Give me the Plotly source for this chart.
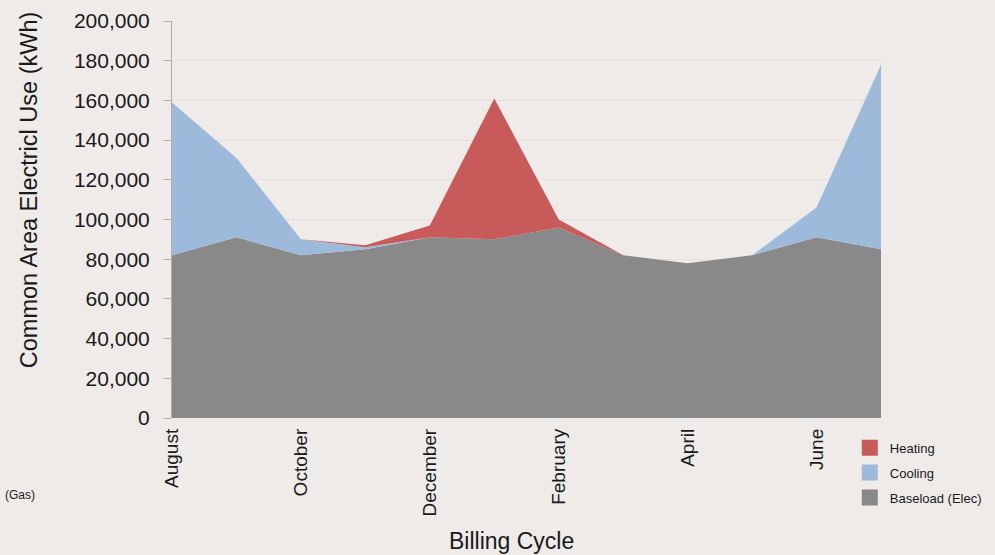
import plotly.graph_objects as go

months = ["August", "September", "October", "November", "December", "January",
          "February", "March", "April", "May", "June", "July"]
baseload = [82000, 91000, 82000, 85000, 91000, 90000, 96000, 82000, 78000, 82000, 91000, 85000]
cooling = [77000, 40000, 8000, 1000, 0, 0, 0, 0, 0, 0, 15000, 93000]
heating = [0, 0, 0, 1000, 6000, 71000, 4000, 0, 0, 0, 0, 0]
tick_months = ["August", "October", "December", "February", "April", "June"]
y_ticks = [0, 20000, 40000, 60000, 80000, 100000, 120000, 140000, 160000, 180000, 200000]

BG = "#eeebe9"
FONT = "Liberation Sans, Arial, sans-serif"
series = [("Baseload (Elec)", baseload, "#898989", 3, "c"),
          ("Cooling", cooling, "#9dbadb", 2, "b"),
          ("Heating", heating, "#c85a5a", 1, "a")]

fig = go.Figure()
for name, vals, col, rank, grp in series:
    fig.add_trace(go.Scatter(x=months, y=vals, name=name, stackgroup="one",
                             mode="none", fillcolor=col, showlegend=False,
                             legendgroup=grp))
for name, vals, col, rank, grp in series:
    fig.add_trace(go.Scatter(x=[None], y=[None], name=name, mode="markers",
                             marker=dict(symbol="square", size=16, color=col),
                             legendrank=rank, legendgroup=grp, hoverinfo="skip"))

fig.update_layout(
    width=995, height=555,
    margin=dict(l=172, r=114, t=21, b=137, autoexpand=False),
    paper_bgcolor=BG, plot_bgcolor=BG,
    font=dict(family=FONT, color="#1a1a1a"),
    showlegend=True,
    legend=dict(x=0.956, y=-0.037, xanchor="left", yanchor="top",
                traceorder="grouped", tracegroupgap=5, itemwidth=30,
                font=dict(size=13, color="#1a1a1a"), bgcolor="rgba(0,0,0,0)"),
    xaxis=dict(type="category", range=[0, 11], tickmode="array", tickvals=tick_months,
               ticktext=tick_months, tickangle=-90, tickfont=dict(size=19),
               ticklabelstandoff=6,
               showgrid=False, zeroline=False, showline=False, ticks=""),
    yaxis=dict(range=[0, 200000], tickmode="array", tickvals=y_ticks,
               tickformat=",d", tickfont=dict(size=21), showgrid=True,
               gridcolor="#e3e0df", gridwidth=1, zeroline=False,
               showline=True, linecolor="#b0adac", linewidth=1,
               ticks="outside", ticklen=7, tickcolor="#b0adac",
               ticklabelstandoff=10),
    annotations=[
        dict(text="Common Area Electricl Use (kWh)", x=-0.2016, y=0.574, xref="paper",
             yref="paper", textangle=-90, showarrow=False, font=dict(size=23.5),
             xanchor="center", yanchor="middle"),
        dict(text="Billing Cycle", x=0.4795, y=-0.31, xref="paper", yref="paper",
             showarrow=False, font=dict(size=23), xanchor="center", yanchor="middle"),
        dict(text="(Gas)", x=-0.238, y=-0.194, xref="paper", yref="paper",
             showarrow=False, font=dict(size=12), xanchor="left", yanchor="middle"),
    ],
)

post = ("document.body.style.margin='0';document.body.style.overflow='hidden';"
        "var gd=document.getElementById('{plot_id}');"
        "Plotly.relayout(gd,{width:995,height:555});")
fig.write_html("out.html", post_script=post, config={"displayModeBar": False})
